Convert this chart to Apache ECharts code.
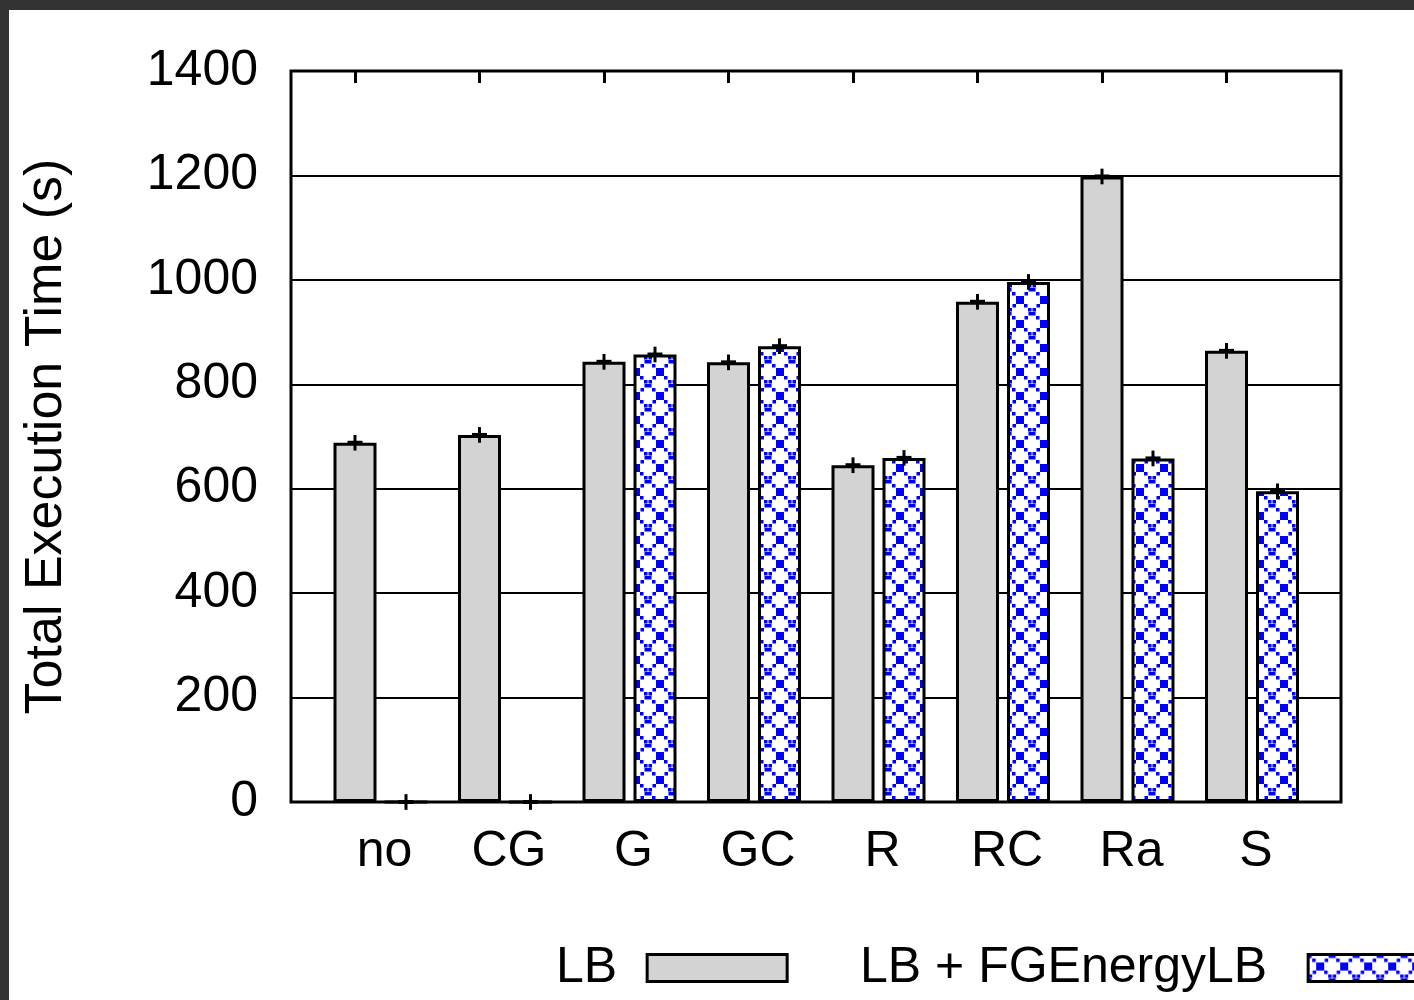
<!DOCTYPE html>
<html>
<head>
<meta charset="utf-8">
<script src="https://cdn.jsdelivr.net/npm/echarts@6/dist/echarts.min.js"></script>
<style>
  html, body { margin: 0; padding: 0; background: #333333; }
  #paper { position: absolute; left: 9px; top: 10px; width: 1405px; height: 990px; background: #ffffff; }
  #chart { position: absolute; left: 0; top: 0; width: 1414px; height: 1000px; }
</style>
</head>
<body>
<div id="paper"></div>
<div id="chart"></div>
<script>
// ---- data ----
const categories = ['no', 'CG', 'G', 'GC', 'R', 'RC', 'Ra', 'S'];
const lbValues = [688, 703, 843, 842, 645, 958, 1198, 864];
const fgValues = [0, 0, 857, 873, 659, 996, 658, 595];
const lbErr = [15, 15, 15, 15, 15, 15, 15, 15];
const fgErr = [15, 15, 15, 15, 15, 15, 15, 15];
const yTicks = [0, 200, 400, 600, 800, 1000, 1200, 1400];
const seriesNames = ['LB', 'LB + FGEnergyLB'];
const yTitle = 'Total Execution Time (s)';

// ---- hatch pattern ----
function makePattern() {
  const s = 24;
  const c = document.createElement('canvas');
  c.width = s; c.height = s;
  const g = c.getContext('2d');
  g.fillStyle = '#ffffff';
  g.fillRect(0, 0, s, s);
  g.fillStyle = '#0000ff';
  for (let k = 0; k < s; k += 4) {
    g.fillRect(k, k, 3.5, 3.5);
    g.fillRect(s - 3.5 - k, k, 3.5, 3.5);
  }
  g.fillRect(8, 8, 8, 8);
  return c;
}
const pattern = { image: makePattern(), repeat: 'repeat' };

const FONT = "'Liberation Sans', Arial, sans-serif";
const chart = echarts.init(document.getElementById('chart'), null, { renderer: 'canvas' });

function errItem(offset) {
  return function (params, api) {
    const i = api.value(0), v = api.value(1), e = api.value(2);
    const mid = api.coord([i, v]);
    const top = api.coord([i, v + e]);
    const bot = api.coord([i, v - e]);
    const x = mid[0] + offset;
    return {
      type: 'group',
      children: [
        { type: 'line', shape: { x1: x, y1: top[1], x2: x, y2: bot[1] }, style: { stroke: '#000', lineWidth: 3 } },
        { type: 'line', shape: { x1: x - 7.5, y1: mid[1], x2: x + 7.5, y2: mid[1] }, style: { stroke: '#000', lineWidth: 4 } }
      ]
    };
  };
}

const legendBase = {
  top: 943, padding: 0, align: 'right', icon: 'rect',
  itemWidth: 140, itemHeight: 27, selectedMode: false,
  itemStyle: { borderColor: '#000', borderWidth: 3 }
};

const option = {
  animation: false,
  backgroundColor: 'transparent',
  textStyle: { fontFamily: FONT },
  grid: [
    { left: 291, right: 73, top: 71, bottom: 198, show: true, borderColor: '#000', borderWidth: 3, backgroundColor: 'transparent' },
    { left: 318.25, width: 996, top: 71, bottom: 198 },
    { left: 292.75, width: 996, top: 71, bottom: 198 }
  ],
  xAxis: [
    { gridIndex: 0, type: 'value', min: 0, max: 1, show: false },
    { gridIndex: 1, type: 'category', data: categories,
      axisLine: { show: false, onZero: false }, axisTick: { show: false },
      axisLabel: { fontSize: 50, color: '#000', fontFamily: FONT, margin: 25, padding: [0, 0, 0, 8] } },
    { gridIndex: 2, type: 'category', data: categories, position: 'top',
      axisLine: { show: false, onZero: false }, axisLabel: { show: false },
      axisTick: { show: true, inside: true, length: 12, alignWithLabel: true, lineStyle: { color: '#000', width: 3 } } }
  ],
  yAxis: [
    { gridIndex: 0, type: 'value', min: yTicks[0], max: yTicks[yTicks.length - 1], interval: 200,
      axisLine: { show: false }, axisTick: { show: false },
      splitLine: { show: true, lineStyle: { color: '#000', width: 2 } },
      axisLabel: { fontSize: 50, color: '#000', fontFamily: FONT, margin: 33, formatter: v => String(v) },
      name: yTitle, nameLocation: 'middle', nameGap: 218, nameRotate: 90,
      nameTextStyle: { fontSize: 52, color: '#000', fontFamily: FONT } },
    { gridIndex: 1, type: 'value', min: 0, max: 1400, show: false },
    { gridIndex: 2, type: 'value', min: 0, max: 1400, show: false }
  ],
  legend: [
    Object.assign({}, legendBase, { left: 556, data: [seriesNames[0]],
      textStyle: { fontSize: 50, color: '#000', fontFamily: FONT, padding: [0, 25, 0, 0] } }),
    Object.assign({}, legendBase, { left: 860, data: [seriesNames[1]],
      textStyle: { fontSize: 50, color: '#000', fontFamily: FONT, padding: [0, 36, 0, 0] } })
  ],
  series: [
    { name: seriesNames[0], type: 'bar', xAxisIndex: 1, yAxisIndex: 1, data: lbValues,
      barWidth: 43, barGap: '18.6%',
      itemStyle: { color: '#d3d3d3', borderColor: '#000', borderWidth: 3 },
      emphasis: { disabled: true } },
    { name: seriesNames[1], type: 'bar', xAxisIndex: 1, yAxisIndex: 1, data: fgValues,
      barWidth: 43, barGap: '18.6%',
      itemStyle: { color: pattern, borderColor: '#000', borderWidth: 3 },
      emphasis: { disabled: true } },
    { type: 'custom', xAxisIndex: 1, yAxisIndex: 1, renderItem: errItem(-25.5),
      data: lbValues.map((v, i) => [i, v, lbErr[i]]), z: 5, silent: true },
    { type: 'custom', xAxisIndex: 1, yAxisIndex: 1, renderItem: errItem(25.5),
      data: fgValues.map((v, i) => [i, v, fgErr[i]]), z: 5, silent: true }
  ]
};
chart.setOption(option);
</script>
</body>
</html>
